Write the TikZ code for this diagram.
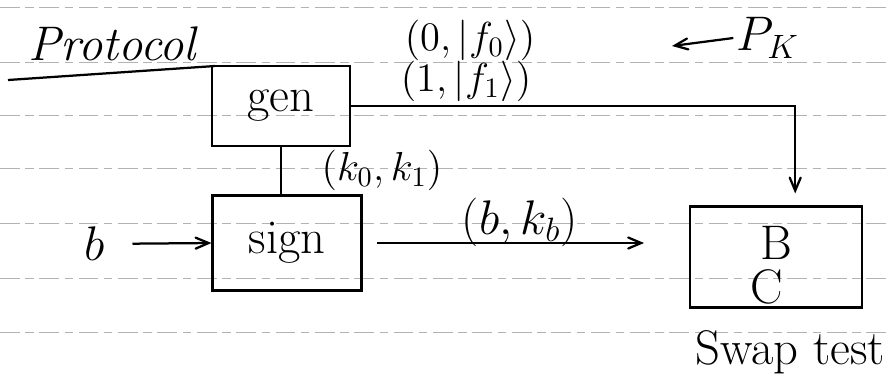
\documentclass[tikz,border=0pt]{standalone}
\usepackage{amsmath}
\usepackage{tikz}
\usetikzlibrary{arrows,calc,positioning}
\tikzstyle{paperline}=[draw=gray!60,dash pattern=on 7pt off 2pt on 3pt off 2pt,line width=0.3pt]
\tikzstyle{hit}=[->,>=angle 45,thick]
\tikzstyle{blk}=[draw,thick,inner sep=0]
\tikzstyle{lbl}=[inner sep=1pt,font=\Large]

\begin{document}
\begin{tikzpicture}[x=0.0125cm,y=-0.0125cm]
\useasboundingbox (0,0) rectangle (888,380);
% ruled paper
\foreach \y in {7,62,115,168,223,278,332}
  \draw[paperline] (0,\y) -- (888,\y);

\node[lbl,font=\LARGE\itshape] (title) at (112,44) {Protocol};
\draw[thick] (8,80) -- (215,66);

\node[blk,minimum width=1.72cm,minimum height=1cm,font=\LARGE] (gen) at (281,106) {gen};
\node[blk,minimum width=1.86cm,minimum height=1.19cm,font=\LARGE] (sign) at (287,243) {sign};
\node[blk,minimum width=2.15cm,minimum height=1.26cm] (swap) at (776,257) {};
\node[lbl,font=\LARGE] (B) at (776,243) {B};
\node[lbl,font=\LARGE] (C) at (767,287) {C};
\node[lbl,font=\LARGE] (swaptest) at (790,352) {Swap test};
\node[lbl,font=\LARGE] (b) at (95,244) {$b$};

% keys out of gen
\node[lbl,inner sep=0] (f0) at (470,40) {$(0,|f_0\rangle)$};
\node[lbl,inner sep=0] (f1) at (466,81) {$(1,|f_1\rangle)$};
\node[lbl,font=\LARGE] (pk) at (768,38) {$P_K$};
\coordinate (pkend) at (672,46);
\draw[hit] (pk.west) -- (pkend);
\node[lbl] (kk) at (382,170) {$(k_0,k_1)$};
\node[lbl,font=\LARGE] (bk) at (520,222) {$(b,k_b)$};

% connectors
\draw[hit,shorten >=0.15cm] (gen.east) -| ([xshift=0.24cm]swap.north);
\draw[thick] (gen.south) -- (gen.south |- sign.north);
\draw[hit,shorten <=0.3cm] (b) -- (sign.west);
\draw[hit,shorten <=0.18cm,shorten >=0.56cm] (sign.east) -- (sign.east -| swap.west);
\end{tikzpicture}
\end{document}
